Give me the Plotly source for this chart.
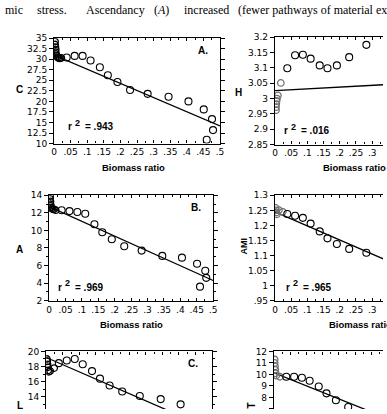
import plotly.graph_objects as go

W, H = 387, 414

# ---------------- data ----------------
# shared biomass-ratio values of the open circles
X_MAIN = [0.038, 0.062, 0.086, 0.110, 0.138, 0.162, 0.191, 0.229, 0.282,
          0.345, 0.405, 0.451, 0.476, 0.479, 0.460]

# Panel A. : C
C_VALS = [30.4, 30.8, 30.8, 29.7, 28.1, 26.2, 24.6, 22.7, 21.8, 21.1, 20.0,
          18.1, 15.8, 13.2, 10.9]
C_CLUSTER_X = [0.003, 0.003, 0.004, 0.005, 0.005, 0.006, 0.008, 0.010, 0.013, 0.017, 0.022]
C_CLUSTER_Y = [34.2, 33.5, 32.9, 32.3, 31.7, 31.2, 30.8, 30.5, 30.3, 30.2, 30.3]
C_FIT = [31.0, 14.2]

# Panel B. : A (ascendancy)
A_VALS = [12.3, 12.2, 12.1, 11.9, 10.7, 9.8, 9.0, 8.2, 7.7, 7.1, 6.9, 6.2, 5.4, 4.6, 3.6]
A_CLUSTER_X = [0.003, 0.003, 0.004, 0.004, 0.005, 0.006, 0.008, 0.011, 0.015, 0.020]
A_CLUSTER_Y = [13.9, 13.6, 13.3, 13.0, 12.8, 12.6, 12.5, 12.4, 12.4, 12.3]
A_FIT = [12.7, 4.3]

# Panel C. : L (only the visible part)
L_VALS = [18.45, 18.8, 19.0, 18.3, 17.4, 16.4, 15.5, 14.7, 14.1, 13.7, 13.0]
L_CLUSTER_X = [0.002, 0.003, 0.004, 0.005, 0.006, 0.008, 0.012, 0.024]
L_CLUSTER_Y = [19.0, 18.7, 18.3, 17.9, 17.5, 17.3, 17.4, 17.8]
L_FIT = [19.2, 9.65]

# right column: H
H_VALS = [3.099, 3.141, 3.143, 3.130, 3.108, 3.099, 3.108, 3.135, 3.175]
H_CLUSTER_X = [0.003, 0.003, 0.004, 0.005, 0.006, 0.009, 0.018]
H_CLUSTER_Y = [2.962, 2.972, 2.982, 2.992, 3.000, 3.010, 3.051]
H_FIT = [3.026, 3.0545]

# right column: AMI
AMI_VALS = [1.238, 1.232, 1.225, 1.206, 1.180, 1.157, 1.138, 1.122, 1.109]
AMI_CLUSTER_X = [0.002, 0.003, 0.004, 0.006, 0.012, 0.024]
AMI_CLUSTER_Y = [1.258, 1.250, 1.243, 1.237, 1.251, 1.245]
AMI_FIT = [1.245, 1.011]

# right column: T
T_VALS = [9.80, 9.80, 9.71, 9.46, 8.95, 8.36, 7.76, 7.17]
T_CLUSTER_X = [0.002, 0.002, 0.003, 0.004, 0.005, 0.007, 0.018]
T_CLUSTER_Y = [11.3, 11.0, 10.7, 10.4, 10.1, 9.9, 9.8]
T_FIT = [10.14, 4.49]

FIT_X = [0.0, 0.5]

# tick labels
X_TICKS = [0, 0.05, 0.1, 0.15, 0.2, 0.25, 0.3, 0.35, 0.4, 0.45, 0.5]
X_TICKTEXT = ["0", ".05", ".1", ".15", ".2", ".25", ".3", ".35", ".4", ".45", ".5"]
X_MINOR = [0.025, 0.075, 0.125, 0.175, 0.225, 0.275, 0.325, 0.375, 0.425, 0.475]

C_TICKS = [10, 12.5, 15, 17.5, 20, 22.5, 25, 27.5, 30, 32.5, 35]
C_TICKTEXT = ["10", "12.5", "15", "17.5", "20", "22.5", "25", "27.5", "30", "32.5", "35"]
A_TICKS = [2, 4, 6, 8, 10, 12, 14]
A_TICKTEXT = ["2", "4", "6", "8", "10", "12", "14"]
L_TICKS = [14, 16, 18, 20]
L_TICKTEXT = ["14", "16", "18", "20"]
H_TICKS = [2.85, 2.9, 2.95, 3.0, 3.05, 3.1, 3.15, 3.2]
H_TICKTEXT = ["2.85", "2.9", "2.95", "3", "3.05", "3.1", "3.15", "3.2"]
AMI_TICKS = [0.95, 1.0, 1.05, 1.1, 1.15, 1.2, 1.25, 1.3]
AMI_TICKTEXT = [".95", "1", "1.05", "1.1", "1.15", "1.2", "1.25", "1.3"]
T_TICKS = [7, 8, 9, 10, 11, 12]
T_TICKTEXT = ["7", "8", "9", "10", "11", "12"]

R2_TEXT = {"A": ".943", "B": ".969", "H": ".016", "AMI": ".965"}

# ---------------- layout helpers ----------------
def fx(p):
    return p / W


def fy(p):
    return 1 - p / H


TICKFONT = dict(family="DejaVu Sans", size=9, color="black")

panels = [
    dict(n=1, xp=(52, 221), yp=(34, 142), xr=[0, 0.5], yr=[10, 35],
         yt=C_TICKS, ytt=C_TICKTEXT, ym=None, cb=False, cr=False),
    dict(n=2, xp=(277, 387), yp=(33, 143), xr=[0, 110 / 330], yr=[2.85, 3.2],
         yt=H_TICKS, ytt=H_TICKTEXT, ym=None, cb=False, cr=True),
    dict(n=3, xp=(47, 214), yp=(195, 303), xr=[0, 0.5], yr=[2, 14],
         yt=A_TICKS, ytt=A_TICKTEXT, ym=[3, 5, 7, 9, 11, 13], cb=False, cr=False),
    dict(n=4, xp=(277, 387), yp=(195, 303), xr=[0, 110 / 330], yr=[0.95, 1.3],
         yt=AMI_TICKS, ytt=AMI_TICKTEXT, ym=None, cb=False, cr=True),
    dict(n=5, xp=(44, 213), yp=(355, 414), xr=[0, 0.5], yr=[20 - 59 / 7.75, 20],
         yt=L_TICKS, ytt=L_TICKTEXT, ym=[13, 15, 17, 19], cb=True, cr=False),
    dict(n=6, xp=(276, 387), yp=(355, 414), xr=[0, 111 / 330], yr=[12 - 59 / 11.8, 12],
         yt=T_TICKS, ytt=T_TICKTEXT, ym=None, cb=True, cr=True),
]

layout = dict(
    width=W, height=H,
    margin=dict(l=0, r=0, t=0, b=0),
    paper_bgcolor="white", plot_bgcolor="white",
    showlegend=False,
)

for p in panels:
    n = p["n"]
    xk = "xaxis" if n == 1 else f"xaxis{n}"
    yk = "yaxis" if n == 1 else f"yaxis{n}"
    xa = dict(
        domain=[fx(p["xp"][0]), fx(p["xp"][1])], range=p["xr"],
        anchor="y" if n == 1 else f"y{n}",
        showline=True, linecolor="black", linewidth=1.2,
        showgrid=False, zeroline=False,
        ticks="inside", ticklen=3, tickwidth=1, tickcolor="black",
        tickmode="array", tickvals=X_TICKS, ticktext=X_TICKTEXT,
        tickfont=TICKFONT,
        minor=dict(tickmode="array", tickvals=X_MINOR, ticks="inside",
                   ticklen=2, tickcolor="black", showgrid=False),
        fixedrange=True,
    )
    if p["cb"]:
        xa.update(side="top", showticklabels=False, mirror=False)
    else:
        xa.update(mirror="ticks")
    ya = dict(
        domain=[fy(p["yp"][1]), fy(p["yp"][0])], range=p["yr"],
        anchor="x" if n == 1 else f"x{n}",
        showline=True, linecolor="black", linewidth=1.2,
        showgrid=False, zeroline=False,
        ticks="outside", ticklen=4, tickwidth=1, tickcolor="black",
        tickmode="array", tickvals=p["yt"], ticktext=p["ytt"],
        tickfont=TICKFONT,
        mirror=False if p["cr"] else "ticks",
        fixedrange=True,
    )
    if p["ym"]:
        ya["minor"] = dict(tickmode="array", tickvals=p["ym"], ticks="outside",
                           ticklen=2, tickcolor="black", showgrid=False)
    layout[xk] = xa
    layout[yk] = ya

fig = go.Figure(layout=layout)


def add_panel(n, xs, ys, cx, cy, fit, cluster_color):
    xa = "x" if n == 1 else f"x{n}"
    ya = "y" if n == 1 else f"y{n}"
    fig.add_trace(go.Scatter(x=FIT_X, y=fit, mode="lines", xaxis=xa, yaxis=ya,
                             line=dict(color="black", width=1.3), hoverinfo="skip"))
    fig.add_trace(go.Scatter(x=cx, y=cy, mode="markers", xaxis=xa, yaxis=ya,
                             marker=dict(symbol="circle-open", size=6.5,
                                         color=cluster_color,
                                         line=dict(width=1.3, color=cluster_color))))
    fig.add_trace(go.Scatter(x=xs, y=ys, mode="markers", xaxis=xa, yaxis=ya,
                             marker=dict(symbol="circle-open", size=7, color="black",
                                         line=dict(width=1.1, color="black"))))


add_panel(1, X_MAIN, C_VALS, C_CLUSTER_X, C_CLUSTER_Y, C_FIT, "black")
add_panel(2, X_MAIN[:len(H_VALS)], H_VALS, H_CLUSTER_X, H_CLUSTER_Y, H_FIT, "#707070")
add_panel(3, X_MAIN, A_VALS, A_CLUSTER_X, A_CLUSTER_Y, A_FIT, "black")
add_panel(4, X_MAIN[:len(AMI_VALS)], AMI_VALS, AMI_CLUSTER_X, AMI_CLUSTER_Y, AMI_FIT, "#707070")
add_panel(5, X_MAIN[:len(L_VALS)], L_VALS, L_CLUSTER_X, L_CLUSTER_Y, L_FIT, "black")
add_panel(6, X_MAIN[:len(T_VALS)], T_VALS, T_CLUSTER_X, T_CLUSTER_Y, T_FIT, "#707070")

BOLD = dict(family="Liberation Sans", color="black")


def ann(text, x, y, size, xanchor="center", yanchor="middle", angle=0, family=None, bold=True):
    f = dict(BOLD)
    f["size"] = size
    if family:
        f["family"] = family
    fig.add_annotation(text=f"<b>{text}</b>" if bold else text,
                       x=fx(x), y=fy(y), xref="paper", yref="paper",
                       xanchor=xanchor, yanchor=yanchor, showarrow=False,
                       textangle=angle, font=f)


def r2(x, y, value):
    ann("r", x, y, 10, xanchor="left")
    ann("2", x + 7, y - 4, 9, xanchor="left")
    ann("= " + value, x + 17, y, 10, xanchor="left")


# axis titles "Biomass ratio"
ann("Biomass ratio", 133, 167, 9.5)
ann("Biomass ratio", 324, 167, 9.5, xanchor="left")
ann("Biomass ratio", 131, 327, 9.5)
ann("Biomass ratio", 330, 327, 9.5, xanchor="left")

# y labels
ann("C", 17, 87, 10)
ann("H", 240, 90, 10)
ann("A", 17, 251, 10)
ann("AMI", 245, 247, 9, angle=-90)
ann("L", 17, 410, 10)
ann("T", 253, 410, 10, angle=-90)

# panel letters
ann("A.", 204, 47, 10)
ann("B.", 197, 207, 10)
ann("C.", 194, 367, 10)

# r^2 texts
r2(64, 125, R2_TEXT["A"])
r2(284, 129, R2_TEXT["H"])
r2(54, 289, R2_TEXT["B"])
r2(286, 289, R2_TEXT["AMI"])

# body text fragments above the figure
SERIF = "Liberation Serif"
ann("mic", 0, 5, 12, xanchor="left", family=SERIF, bold=False)
ann("stress.", 33, 5, 12, xanchor="left", family=SERIF, bold=False)
ann("Ascendancy", 82, 5, 12, xanchor="left", family=SERIF, bold=False)
ann("(<i>A</i>)", 152, 5, 12, xanchor="left", family=SERIF, bold=False)
ann("increased", 182, 5, 12, xanchor="left", family=SERIF, bold=False)
ann("(fewer pathways of material ex", 237, 5, 12, xanchor="left", family=SERIF, bold=False)

fig.write_html("out.html")
